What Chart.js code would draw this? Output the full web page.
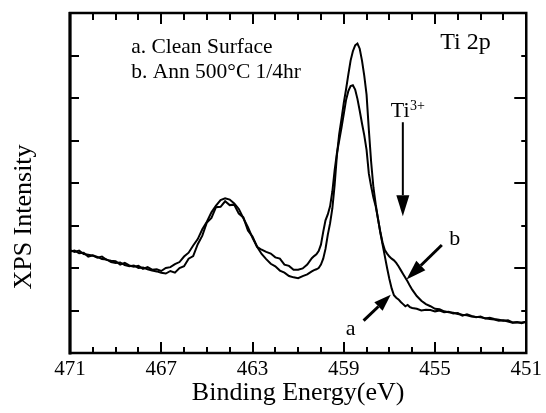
<!DOCTYPE html>
<html><head><meta charset="utf-8">
<script src="https://cdn.jsdelivr.net/npm/chart.js@4/dist/chart.umd.min.js"></script>
<style>html,body{margin:0;padding:0;background:#fff}#wrap{width:546px;height:413px}</style>
</head><body><div id="wrap"><canvas id="c" width="546" height="413"></canvas></div>
<script>
// ---- data (binding energy in eV, intensity in axis-tick units) ----
const bindingEnergy = [
  471.0,470.8,470.6,470.4,470.2,470.0,469.8,469.6,469.4,469.2,469.0,468.8,468.6,468.4,468.2,468.0,467.8,467.6,467.4,467.2,467.0,
  466.8,466.6,466.4,466.2,466.0,465.8,465.6,465.4,465.2,465.0,464.8,464.6,464.4,464.2,464.0,463.8,463.6,463.4,463.2,463.0,
  462.8,462.6,462.4,462.2,462.0,461.8,461.6,461.4,461.2,461.0,460.8,460.6,460.4,
  460.3,460.2,460.1,460.0,459.9,459.8,459.7,459.6,459.5,459.4,459.3,459.2,459.1,459.0,458.9,458.8,458.7,458.6,458.5,458.4,
  458.3,458.2,458.1,458.0,457.9,457.8,457.7,457.6,457.5,457.4,457.3,457.2,457.1,457.0,456.9,456.8,456.7,456.6,456.5,456.4,
  456.3,456.2,456.1,456.0,
  455.8,455.6,455.4,455.2,455.0,454.8,454.6,454.4,454.2,454.0,453.8,453.6,453.4,453.2,453.0,452.8,452.6,452.4,452.2,452.0,
  451.8,451.6,451.4,451.2,451.0
];
const cleanSurface = [
  2.42,2.38,2.41,2.33,2.31,2.29,2.24,2.27,2.19,2.17,2.16,2.08,2.12,2.06,2.03,2.05,1.98,2.02,1.96,1.97,1.93,
  2.00,2.02,2.09,2.14,2.27,2.36,2.53,2.68,2.91,3.09,3.31,3.47,3.60,3.64,3.61,3.52,3.39,3.17,2.96,2.71,
  2.50,2.33,2.21,2.10,2.04,1.94,1.89,1.81,1.78,1.76,1.81,1.85,1.92,
  1.95,1.97,2.00,2.08,2.22,2.45,2.78,3.05,3.40,3.95,4.65,5.15,5.50,5.88,6.20,6.55,6.88,7.10,7.24,7.28,
  7.16,6.88,6.52,6.08,5.25,4.50,3.90,3.50,3.16,2.84,2.56,2.28,2.00,1.74,1.52,1.36,1.30,1.26,1.20,1.15,
  1.10,1.13,1.08,1.06,
  1.04,1.00,1.02,1.01,0.98,1.00,0.96,0.97,0.93,0.94,0.88,0.91,0.87,0.84,0.86,0.81,0.83,0.80,0.78,0.76,
  0.77,0.72,0.73,0.70,0.74
];
const annealed500C = [
  2.39,2.41,2.35,2.36,2.27,2.30,2.26,2.21,2.20,2.14,2.12,2.13,2.07,2.04,2.06,2.00,2.01,1.97,1.94,1.92,1.89,
  1.87,1.93,1.89,2.00,2.04,2.22,2.28,2.56,2.76,3.07,3.18,3.43,3.44,3.57,3.48,3.49,3.28,3.19,2.88,2.74,
  2.50,2.43,2.38,2.34,2.25,2.22,2.08,2.05,1.96,1.96,1.99,2.08,2.23,
  2.28,2.32,2.40,2.55,2.85,3.12,3.26,3.45,3.80,4.30,4.70,5.00,5.30,5.62,5.95,6.16,6.28,6.30,6.20,5.98,
  5.70,5.40,5.12,4.78,4.22,3.92,3.66,3.45,3.16,2.86,2.60,2.42,2.34,2.27,2.22,2.18,2.12,2.04,1.95,1.86,
  1.77,1.68,1.58,1.49,
  1.34,1.23,1.15,1.10,1.04,1.03,0.98,0.96,0.95,0.92,0.90,0.89,0.86,0.85,0.84,0.82,0.80,0.79,0.76,0.77,
  0.74,0.71,0.72,0.72,0.73
];
const xTickLabels = [471,467,463,459,455,451];
const seriesNames = ['a. Clean Surface','b. Ann 500°C 1/4hr'];

const SERIF = '"Liberation Serif","Times New Roman",serif';

function arrow(ctx, x1, y1, x2, y2, lw, headLen, headW) {
  const ang = Math.atan2(y2 - y1, x2 - x1);
  const bx = x2 - headLen * Math.cos(ang), by = y2 - headLen * Math.sin(ang);
  ctx.lineWidth = lw;
  ctx.beginPath(); ctx.moveTo(x1, y1); ctx.lineTo(bx, by); ctx.stroke();
  const px = -Math.sin(ang) * headW / 2, py = Math.cos(ang) * headW / 2;
  ctx.beginPath(); ctx.moveTo(x2, y2); ctx.lineTo(bx + px, by + py); ctx.lineTo(bx - px, by - py); ctx.closePath(); ctx.fill();
}

const framePlugin = {
  id: 'frame',
  afterDraw(chart) {
    const ctx = chart.ctx, a = chart.chartArea, xs = chart.scales.x, ys = chart.scales.y;
    const X = v => xs.getPixelForValue(v), Y = v => ys.getPixelForValue(v);
    ctx.save();
    ctx.strokeStyle = '#000'; ctx.fillStyle = '#000'; ctx.lineCap = 'butt';
    // frame
    ctx.lineWidth = 2.5;
    ctx.strokeRect(a.left, a.top, a.right - a.left, a.bottom - a.top);
    ctx.lineWidth = 3;
    ctx.beginPath(); ctx.moveTo(a.left, a.top - 1); ctx.lineTo(a.left, a.bottom + 1.5); ctx.stroke();
    // x ticks (inward, bottom and top)
    ctx.lineWidth = 2;
    for (let e = 451; e <= 471; e++) {
      const px = Math.round(X(e));
      const major = (471 - e) % 4 === 0;
      const lb = major ? 11 : 6, lt = major ? 11 : 7;
      ctx.beginPath(); ctx.moveTo(px, a.bottom); ctx.lineTo(px, a.bottom - lb); ctx.stroke();
      ctx.beginPath(); ctx.moveTo(px, a.top); ctx.lineTo(px, a.top + lt); ctx.stroke();
    }
    // y ticks
    for (let v = 1; v <= 7; v++) {
      const py = Math.round(Y(v));
      ctx.beginPath(); ctx.moveTo(a.left, py); ctx.lineTo(a.left + 9, py); ctx.stroke();
      const lr = v % 2 === 0 ? 12 : 5;
      ctx.beginPath(); ctx.moveTo(a.right, py); ctx.lineTo(a.right - lr, py); ctx.stroke();
    }
    // texts
    ctx.textBaseline = 'alphabetic'; ctx.textAlign = 'left';
    ctx.font = '21.5px ' + SERIF;
    ctx.fillText(seriesNames[0], X(468.32), Y(7.07));
    ctx.fillText(seriesNames[1], X(468.32), Y(6.48));
    ctx.font = '24px ' + SERIF;
    ctx.fillText('Ti 2p', X(454.77), Y(7.15));
    // Ti3+
    ctx.font = '22px ' + SERIF;
    const tx = X(456.94), ty = Y(5.56);
    ctx.fillText('Ti', tx, ty);
    const tw = ctx.measureText('Ti').width;
    ctx.font = '14px ' + SERIF;
    ctx.fillText('3+', tx + tw + 0.5, ty - 7);
    ctx.font = '22px ' + SERIF;
    ctx.textAlign = 'center';
    ctx.fillText('b', X(454.13), Y(2.54));
    ctx.fillText('a', X(458.7), Y(0.42));
    // arrows
    arrow(ctx, X(456.41), Y(5.43), X(456.41), Y(3.22), 2, 21, 13);
    arrow(ctx, X(454.70), Y(2.54), X(456.25), Y(1.73), 3, 20, 13);
    arrow(ctx, X(458.13), Y(0.76), X(456.94), Y(1.37), 3, 17, 12);
    // axis titles
    ctx.font = '26px ' + SERIF;
    ctx.textAlign = 'center';
    ctx.fillText('Binding Energy(eV)', (a.left + a.right) / 2, 399.5);
    ctx.save();
    ctx.translate(30.5, 217);
    ctx.rotate(-Math.PI / 2);
    ctx.fillText('XPS Intensity', 0, 0);
    ctx.restore();
    ctx.restore();
  }
};

new Chart(document.getElementById('c').getContext('2d'), {
  type: 'line',
  data: {
    datasets: [
      { label: seriesNames[0], data: bindingEnergy.map((e, i) => ({ x: e, y: cleanSurface[i] })),
        borderColor: '#000', borderWidth: 2, pointRadius: 0, tension: 0, fill: false },
      { label: seriesNames[1], data: bindingEnergy.map((e, i) => ({ x: e, y: annealed500C[i] })),
        borderColor: '#000', borderWidth: 2, pointRadius: 0, tension: 0, fill: false }
    ]
  },
  options: {
    responsive: false, animation: false, devicePixelRatio: 1,
    layout: { padding: { top: 13, right: 16, left: 0, bottom: 0 } },
    plugins: { legend: { display: false }, tooltip: { enabled: false } },
    scales: {
      x: {
        type: 'linear', reverse: true, min: 451, max: 471,
        grid: { display: false, drawTicks: false }, border: { display: false },
        ticks: { stepSize: 1, autoSkip: false, maxRotation: 0, padding: 4, color: '#000',
          font: { family: SERIF, size: 21 },
          callback: v => xTickLabels.includes(Math.round(v)) ? String(Math.round(v)) : '' },
        afterFit: s => { s.height = 60; }
      },
      y: {
        min: 0, max: 8,
        grid: { display: false, drawTicks: false }, border: { display: false },
        ticks: { display: false, stepSize: 1 },
        afterFit: s => { s.width = 70; }
      }
    }
  },
  plugins: [framePlugin]
});
</script>
</body></html>
